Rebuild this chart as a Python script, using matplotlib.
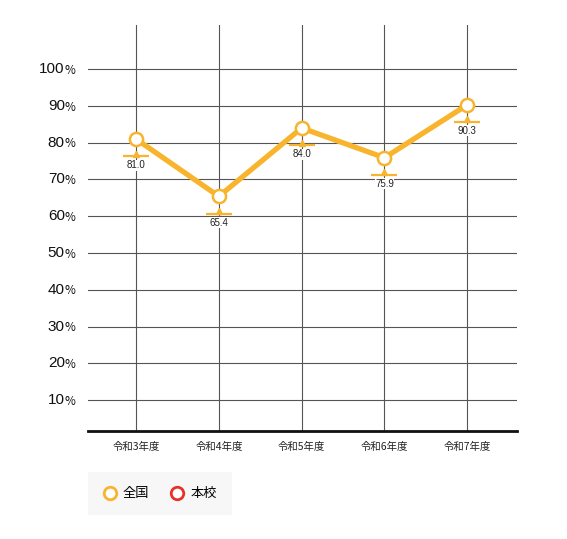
import matplotlib
matplotlib.use('Agg')
import matplotlib.pyplot as plt
import matplotlib.transforms as mtransforms
from matplotlib.lines import Line2D

plt.rcParams['font.family'] = ['Noto Sans CJK JP', 'DejaVu Sans']

# data
years = ['令和3年度', '令和4年度', '令和5年度', '令和6年度', '令和7年度']
zenkoku = [81.0, 65.4, 84.0, 75.9, 90.3]
honko = []  # no values shown for 本校
y_ticks = [10, 20, 30, 40, 50, 60, 70, 80, 90, 100]
series_names = ['全国', '本校']

ORANGE = '#F8B42C'
RED = '#E8312A'

fig = plt.figure(figsize=(5.67, 5.39), dpi=100)
ax = fig.add_axes([88 / 567, 1 - 431 / 539, (517 - 88) / 567, (431 - 25) / 539])

x = list(range(len(years)))
ax.set_xlim(-0.58, len(years) - 1 + 0.6)
ax.set_ylim(1.6, 112)

# grid
for v in y_ticks:
    ax.axhline(v, color='#555555', lw=0.8, zorder=1)
for xi in x:
    ax.axvline(xi, color='#555555', lw=0.8, zorder=1)

for s in ['top', 'left', 'right']:
    ax.spines[s].set_visible(False)
ax.spines['bottom'].set_color('#111111')
ax.spines['bottom'].set_linewidth(2)
ax.spines['bottom'].set_zorder(3)

ax.set_xticks(x)
ax.set_xticklabels(years, fontsize=7.5, color='#222222')
ax.tick_params(axis='x', length=0, pad=8)
ax.set_yticks(y_ticks)
ax.set_yticklabels([])
ax.tick_params(axis='y', length=0)

# y tick labels with a smaller % sign
lbl = mtransforms.blended_transform_factory(ax.transAxes, ax.transData)
for v in y_ticks:
    ax.text(-0.054, v, str(v), transform=lbl, ha='right', va='center',
            fontsize=11, family='Liberation Sans', color='#111111')
    ax.text(-0.054, v - 0.3, '%', transform=lbl, ha='left', va='center',
            fontsize=8.5, color='#111111')

# line
ax.plot(x, zenkoku, color=ORANGE, lw=3.8, zorder=4, solid_capstyle='round')
ax.plot(x, zenkoku, 'o', ms=9.5, mfc='white', mec=ORANGE, mew=1.8, zorder=5)

# pedestals and value labels
tri_tr = mtransforms.offset_copy(ax.transData, fig=fig, x=0, y=-10.5, units='points')
bar_tr = mtransforms.offset_copy(ax.transData, fig=fig, x=0, y=-12.5, units='points')
ax.plot(x, zenkoku, '^', ms=5, color=ORANGE, mec=ORANGE, transform=tri_tr, zorder=4)
ax.plot(x, zenkoku, '_', ms=19, mew=1.6, color=ORANGE, transform=bar_tr, zorder=4)
for xi, v in zip(x, zenkoku):
    ax.annotate(f'{v:.1f}', (xi, v), xytext=(0, -21), textcoords='offset points',
                ha='center', va='baseline', fontsize=7, family='Liberation Sans',
                color='#222222', zorder=6,
                bbox=dict(boxstyle='square,pad=0.05', fc='white', ec='none'))

# legend
handles = [
    Line2D([], [], marker='o', ls='none', ms=9, mfc='white', mec=ORANGE, mew=2),
    Line2D([], [], marker='o', ls='none', ms=9, mfc='white', mec=RED, mew=2),
]
leg = fig.legend(handles, series_names, loc='upper left',
                 bbox_to_anchor=(88 / 567, 1 - 472 / 539), ncol=2,
                 frameon=True, fancybox=False, facecolor='#f5f5f5', edgecolor='#f5f5f5',
                 fontsize=9.5, handletextpad=0.5, columnspacing=1.6, borderpad=1.15,
                 handlelength=1.0, borderaxespad=0)
leg.get_frame().set_linewidth(0)

fig.savefig('out.png', dpi=100)
